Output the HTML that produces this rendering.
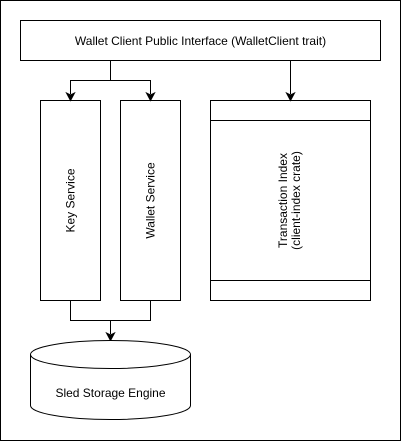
<!DOCTYPE html>
<html><head><style>body{margin:0;background:#fff}svg{display:block}</style></head><body>
<svg width="401" height="441" xmlns="http://www.w3.org/2000/svg" font-family="Liberation Sans, Arial, sans-serif" font-size="12" fill="none" stroke="#000">
<rect x="0.5" y="0.5" width="400" height="440" stroke-width="1"/>
<rect x="20.5" y="20.5" width="360" height="40"/>
<text x="200.5" y="45" text-anchor="middle" fill="#000" stroke="none">Wallet Client Public Interface (WalletClient trait)</text>
<rect x="40.5" y="100.5" width="60" height="200"/>
<rect x="120.5" y="100.5" width="60" height="200"/>
<rect x="210.5" y="100.5" width="160" height="200"/>
<line x1="210.5" y1="120.5" x2="370.5" y2="120.5"/>
<line x1="210.5" y1="280.5" x2="370.5" y2="280.5"/>
<text transform="translate(74.5,200.5) rotate(-90)" text-anchor="middle" fill="#000" stroke="none">Key Service</text>
<text transform="translate(154.5,200.5) rotate(-90)" text-anchor="middle" fill="#000" stroke="none">Wallet Service</text>
<text transform="translate(287,200.5) rotate(-90)" text-anchor="middle" fill="#000" stroke="none">Transaction Index</text>
<text transform="translate(300,200.5) rotate(-90)" text-anchor="middle" fill="#000" stroke="none">(client-index crate)</text>
<path d="M110.5,60.5 V80.5 M70.5,94 V80.5 H150.5 V94 M290.5,60.5 V94"/>
<path d="M70.5,300.5 V320.5 H150.5 V300.5 M110.5,320.5 V334"/>
<g fill="#000" stroke="#000">
<path d="M66.5,93 L70.5,100.5 L74.5,93 L70.5,95 Z"/>
<path d="M146.5,93 L150.5,100.5 L154.5,93 L150.5,95 Z"/>
<path d="M286.5,93 L290.5,100.5 L294.5,93 L290.5,95 Z"/>
<path d="M106.5,333 L110.5,340.5 L114.5,333 L110.5,335 Z"/>
</g>
<path d="M30.5,354.5 A80,14 0 0 1 190.5,354.5 V405.5 A80,14 0 0 1 30.5,405.5 Z" fill="#fff"/>
<path d="M30.5,354.5 A80,14 0 0 0 190.5,354.5"/>
<text x="110.5" y="397" text-anchor="middle" fill="#000" stroke="none">Sled Storage Engine</text>
</svg>
</body></html>
